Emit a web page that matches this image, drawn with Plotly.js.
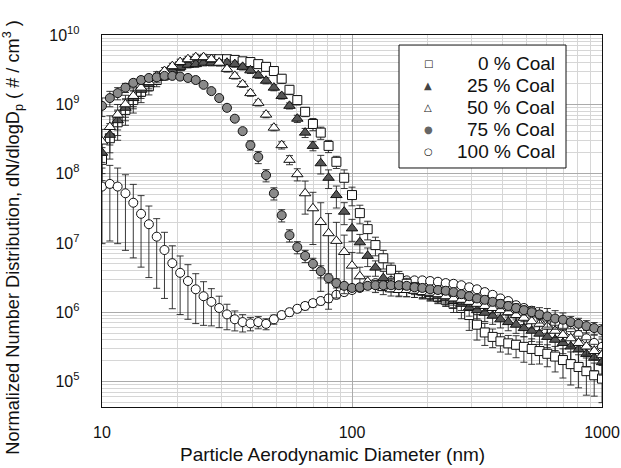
<!DOCTYPE html>
<html>
<head>
<meta charset="utf-8">
<script src="https://cdn.plot.ly/plotly-3.0.1.min.js"></script>
<style>html,body{margin:0;padding:0;background:#fff;}#chart{width:621px;height:468px;}</style>
</head>
<body>
<div id="chart"></div>
<script>
// Particle aerodynamic diameter (nm), shared by all series
const diameter = [10.0,10.75,11.55,12.41,13.34,14.33,15.40,16.55,17.78,19.11,20.54,22.07,23.71,25.48,27.38,29.43,31.62,33.98,36.52,39.24,42.17,45.32,48.70,52.33,56.23,60.43,64.94,69.78,74.99,80.58,86.60,93.06,100,107.5,115.5,124.1,133.4,143.3,154.0,165.5,177.8,191.1,205.4,220.7,237.1,254.8,273.8,294.3,316.2,339.8,365.2,392.4,421.7,453.2,487.0,523.3,562.3,604.3,649.4,697.8,749.9,805.8,866.0,930.6,1000];

const seriesNames = ['0 % Coal','25 % Coal','50 % Coal','75 % Coal','100 % Coal'];

// dN/dlogDp (#/cm3)
const coal0 = [1.58e8,3.24e8,5.5e8,8.3e8,1.15e9,1.51e9,1.82e9,2.24e9,2.63e9,3.09e9,3.55e9,3.98e9,4.17e9,4.37e9,4.47e9,4.47e9,4.47e9,4.37e9,4.17e9,4.07e9,3.80e9,3.47e9,3.02e9,2.34e9,1.62e9,1.15e9,7.8e8,5.2e8,3.9e8,2.51e8,1.48e8,8.7e7,4.9e7,2.69e7,1.58e7,9.3e6,6.0e6,4.1e6,3.1e6,2.57e6,2.24e6,2.04e6,1.82e6,1.66e6,1.51e6,1.32e6,1.15e6,9.1e5,6.6e5,5.1e5,4.4e5,3.8e5,3.55e5,3.39e5,3.16e5,2.95e5,2.75e5,2.51e5,2.29e5,2.04e5,1.78e5,1.62e5,1.41e5,1.23e5,1.10e5];
const coal25 = [2.0e8,3.63e8,5.9e8,8.9e8,1.23e9,1.62e9,1.95e9,2.40e9,2.75e9,3.09e9,3.47e9,3.72e9,3.80e9,3.98e9,3.98e9,3.98e9,3.98e9,3.80e9,3.47e9,3.09e9,2.63e9,2.19e9,1.74e9,1.32e9,9.5e8,6.2e8,3.9e8,2.51e8,1.41e8,8.7e7,4.9e7,2.82e7,1.62e7,1.02e7,6.5e6,4.4e6,3.1e6,2.45e6,2.14e6,2.09e6,2.04e6,1.95e6,1.82e6,1.70e6,1.58e6,1.45e6,1.32e6,1.17e6,1.07e6,9.8e5,8.9e5,7.9e5,7.2e5,6.6e5,5.9e5,5.4e5,4.9e5,4.4e5,4.0e5,3.6e5,3.2e5,2.9e5,2.5e5,2.2e5,1.9e5];
const coal50 = [2.9e8,4.7e8,7.1e8,1.00e9,1.32e9,1.74e9,2.09e9,2.57e9,3.02e9,3.55e9,4.07e9,4.47e9,4.79e9,4.79e9,4.47e9,3.98e9,3.24e9,2.57e9,1.95e9,1.45e9,1.05e9,7.1e8,4.6e8,2.57e8,1.58e8,9.8e7,5.2e7,3.16e7,2.0e7,1.38e7,1.07e7,7.4e6,4.7e6,3.3e6,2.75e6,2.40e6,2.24e6,2.14e6,2.09e6,2.09e6,2.04e6,1.95e6,1.91e6,1.82e6,1.70e6,1.58e6,1.51e6,1.41e6,1.32e6,1.23e6,1.15e6,1.07e6,1.00e6,9.1e5,8.3e5,7.4e5,6.8e5,6.2e5,5.4e5,4.7e5,4.2e5,3.6e5,3.2e5,2.75e5,2.4e5];
const coal75 = [9.5e8,1.23e9,1.45e9,1.74e9,2.04e9,2.24e9,2.40e9,2.45e9,2.57e9,2.57e9,2.51e9,2.40e9,2.24e9,1.91e9,1.55e9,1.23e9,8.9e8,6.2e8,4.1e8,2.57e8,1.74e8,9.5e7,5.2e7,2.51e7,1.29e7,8.7e6,6.5e6,5.0e6,3.9e6,3.1e6,2.63e6,2.40e6,2.24e6,2.29e6,2.40e6,2.45e6,2.45e6,2.45e6,2.45e6,2.40e6,2.29e6,2.24e6,2.14e6,2.09e6,2.04e6,1.95e6,1.82e6,1.70e6,1.58e6,1.51e6,1.41e6,1.32e6,1.23e6,1.15e6,1.07e6,1.00e6,9.3e5,8.7e5,8.1e5,7.8e5,7.2e5,6.8e5,6.3e5,5.9e5,5.5e5];
const coal100 = [6.5e7,7.1e7,6.5e7,5.2e7,3.8e7,2.63e7,1.86e7,1.23e7,7.9e6,5.1e6,3.7e6,2.82e6,2.14e6,1.70e6,1.41e6,1.15e6,9.3e5,7.9e5,7.2e5,6.9e5,7.2e5,6.8e5,7.9e5,9.1e5,1.00e6,1.12e6,1.23e6,1.35e6,1.45e6,1.58e6,1.78e6,1.95e6,2.09e6,2.24e6,2.45e6,2.63e6,2.75e6,2.82e6,2.88e6,2.88e6,2.88e6,2.88e6,2.82e6,2.75e6,2.63e6,2.57e6,2.45e6,2.29e6,2.14e6,1.95e6,1.78e6,1.58e6,1.45e6,1.26e6,1.15e6,1.05e6,9.1e5,7.9e5,6.9e5,6.2e5,5.4e5,4.7e5,4.2e5,3.6e5,3.16e5];

// Relative error-bar half-lengths (fraction of value)
const relErr0 = [0.5,0.5,0.45,0.4,0.35,0.3,0.25,0.2,0.15,0.12,0.1,0.1,0.1,0.1,0.1,0.1,0.1,0.1,0.1,0.1,0.1,0.1,0.12,0.15,0.15,0.15,0.15,0.2,0.2,0.2,0.2,0.3,0.3,0.3,0.3,0.3,0.3,0.25,0.25,0.2,0.2,0.2,0.2,0.2,0.2,0.25,0.3,0.4,0.4,0.35,0.3,0.3,0.3,0.35,0.4,0.4,0.35,0.35,0.4,0.45,0.5,0.5,0.55,0.5,0.55];
const relErr25 = [0.5,0.45,0.4,0.35,0.3,0.25,0.2,0.15,0.12,0.1,0.1,0.1,0.1,0.1,0.1,0.1,0.1,0.1,0.1,0.1,0.1,0.1,0.1,0.1,0.1,0.12,0.15,0.15,0.3,0.3,0.35,0.35,0.35,0.3,0.3,0.25,0.25,0.2,0.2,0.2,0.2,0.2,0.2,0.2,0.2,0.2,0.2,0.25,0.25,0.25,0.25,0.25,0.25,0.25,0.25,0.3,0.3,0.3,0.3,0.3,0.35,0.35,0.35,0.35,0.35];
const relErr50 = [0.5,0.45,0.4,0.35,0.3,0.25,0.2,0.15,0.12,0.1,0.1,0.1,0.1,0.1,0.1,0.1,0.1,0.1,0.1,0.1,0.1,0.1,0.1,0.12,0.15,0.2,0.5,0.7,0.9,0.92,0.85,0.75,0.55,0.35,0.2,0.2,0.2,0.2,0.2,0.2,0.2,0.2,0.2,0.2,0.2,0.2,0.15,0.15,0.15,0.15,0.15,0.15,0.15,0.15,0.2,0.2,0.2,0.2,0.2,0.2,0.25,0.25,0.25,0.25,0.25];
const relErr75 = [0.3,0.25,0.2,0.15,0.12,0.1,0.08,0.08,0.08,0.08,0.08,0.08,0.08,0.08,0.08,0.08,0.08,0.08,0.08,0.15,0.2,0.2,0.2,0.2,0.2,0.2,0.2,0.2,0.2,0.15,0.15,0.1,0.1,0.1,0.1,0.1,0.1,0.1,0.1,0.1,0.1,0.1,0.1,0.1,0.1,0.1,0.1,0.1,0.1,0.1,0.1,0.15,0.15,0.15,0.15,0.15,0.25,0.3,0.3,0.25,0.2,0.2,0.2,0.2,0.2];
const relErr100 = [0.85,0.85,0.85,0.85,0.84,0.83,0.83,0.82,0.8,0.78,0.75,0.72,0.68,0.62,0.55,0.48,0.4,0.32,0.28,0.22,0.2,0.18,0.15,0.12,0.12,0.12,0.12,0.12,0.12,0.12,0.12,0.1,0.1,0.1,0.1,0.1,0.1,0.1,0.1,0.1,0.1,0.1,0.1,0.1,0.1,0.1,0.1,0.1,0.1,0.1,0.1,0.1,0.1,0.1,0.1,0.15,0.15,0.15,0.15,0.2,0.25,0.3,0.3,0.3,0.3];

const yTickVals = [1e5,1e6,1e7,1e8,1e9,1e10];
const yTickText = ['10<sup>5</sup>','10<sup>6</sup>','10<sup>7</sup>','10<sup>8</sup>','10<sup>9</sup>','10<sup>10</sup>'];
const xTickVals = [10,100,1000];
const xTickText = ['10','100','1000'];

const FONT = 'Liberation Sans, Arial, sans-serif';

function mk(name, y, rel, symbol, fill, size) {
  return {
    type: 'scatter', mode: 'markers', name: name,
    x: diameter, y: y,
    error_y: {type: 'data', symmetric: true, array: y.map((v, i) => v * rel[i]),
              color: '#222', thickness: 0.9, width: 3.5},
    marker: {symbol: symbol, size: size, color: fill, line: {color: '#111', width: 1}},
    showlegend: false
  };
}

const traces = [
  mk(seriesNames[4], coal100, relErr100, 'circle', '#ffffff', 9),
  mk(seriesNames[0], coal0, relErr0, 'square', '#ffffff', 9),
  mk(seriesNames[1], coal25, relErr25, 'triangle-up', '#555555', 10),
  mk(seriesNames[2], coal50, relErr50, 'triangle-up', '#ffffff', 10),
  mk(seriesNames[3], coal75, relErr75, 'circle', '#8a8a8a', 9)
];

// manual legend (text right-aligned like the original)
const legendGlyphs = ['\u25A1','\u25B2','\u25B3','\u25CF','\u25CB'];
const legendGlyphColors = ['#111','#444','#111','#666','#111'];
const annotations = [];
seriesNames.forEach((n, i) => {
  const yy = 0.9247 - i * 0.0598;
  annotations.push({xref: 'paper', yref: 'paper', x: 0.91, y: yy, xanchor: 'right', yanchor: 'middle',
    text: n, showarrow: false, font: {family: FONT, size: 19, color: '#111'}});
  annotations.push({xref: 'paper', yref: 'paper', x: 0.652, y: yy, xanchor: 'center', yanchor: 'middle',
    text: legendGlyphs[i], showarrow: false, font: {family: 'DejaVu Sans', size: 10, color: legendGlyphColors[i]}});
});
annotations.push({xref: 'paper', yref: 'paper', x: 0.46, y: -0.129, xanchor: 'center', yanchor: 'middle',
  text: 'Particle Aerodynamic Diameter (nm)', showarrow: false, font: {family: FONT, size: 19, color: '#111'}});
annotations.push({xref: 'paper', yref: 'paper', x: -0.18, y: 0.455, xanchor: 'center', yanchor: 'middle', textangle: -90,
  text: 'Normalized Number Distribution, dN/dlogD<sub>p</sub> ( # / cm<sup>3</sup> )', showarrow: false,
  font: {family: FONT, size: 18.2, color: '#111'}});

const layout = {
  width: 621, height: 468,
  margin: {l: 102, r: 19, t: 35, b: 61},
  paper_bgcolor: '#fff', plot_bgcolor: '#fff',
  font: {family: FONT, color: '#111'},
  showlegend: false,
  xaxis: {
    type: 'log', range: [1, 3],
    tickvals: xTickVals, ticktext: xTickText, tickfont: {size: 16, color: '#111'},
    ticks: '', ticklabelstandoff: 10,
    showgrid: true, gridcolor: '#ababab', gridwidth: 1,
    minor: {dtick: 'D1', showgrid: true, gridcolor: '#d6d6d6', gridwidth: 1, ticks: ''},
    showline: true, linecolor: '#111', linewidth: 1.3, mirror: true, zeroline: false
  },
  yaxis: {
    type: 'log', range: [4.632, 10],
    tickvals: yTickVals, ticktext: yTickText, tickfont: {size: 16, color: '#111'},
    ticks: '', ticklabelstandoff: 18,
    showgrid: true, gridcolor: '#ababab', gridwidth: 1,
    minor: {dtick: 'D1', showgrid: true, gridcolor: '#d6d6d6', gridwidth: 1, ticks: ''},
    showline: true, linecolor: '#111', linewidth: 1.3, mirror: true, zeroline: false
  },
  shapes: [{type: 'rect', xref: 'paper', yref: 'paper', x0: 0.594, x1: 0.928, y0: 0.6425, y1: 0.973,
    fillcolor: '#ffffff', line: {color: '#111', width: 1}, layer: 'above'}],
  annotations: annotations
};

Plotly.newPlot('chart', traces, layout, {displayModeBar: false, staticPlot: true});
</script>
</body>
</html>
